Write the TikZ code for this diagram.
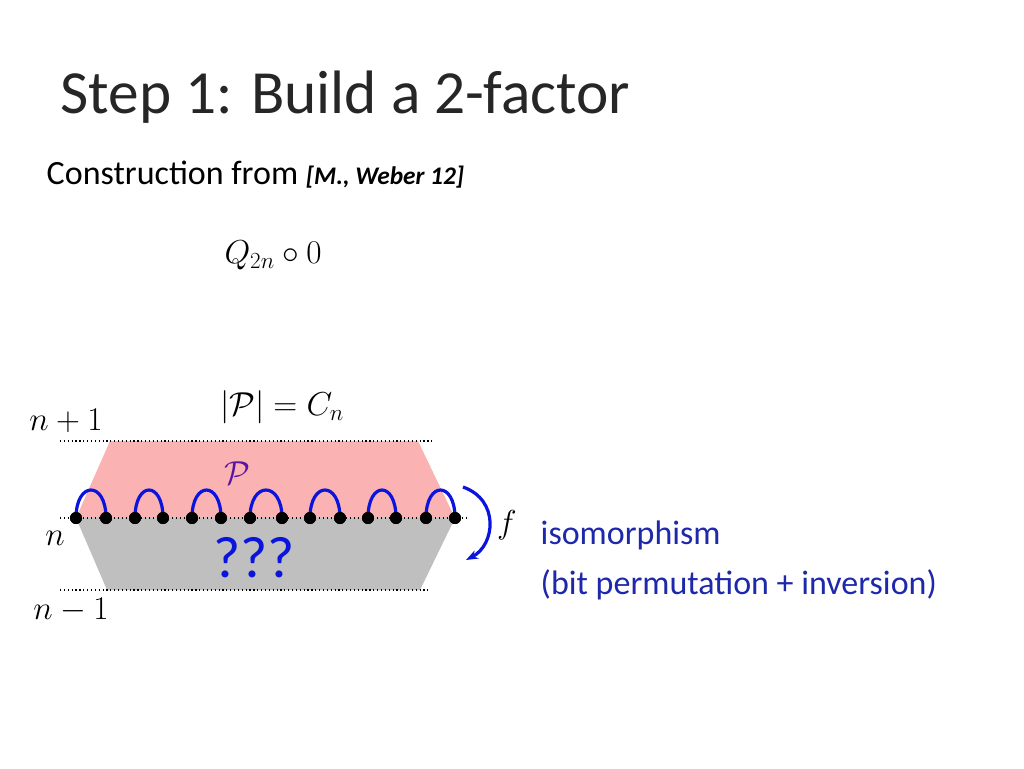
\documentclass[tikz,border=0pt]{standalone}
\usepackage{fontspec}
\setmainfont{Carlito}
\usetikzlibrary{arrows.meta}
\definecolor{pinkfill}{RGB}{251,178,178}
\definecolor{grayfill}{RGB}{191,191,191}
\definecolor{arcblue}{RGB}{10,20,220}
\definecolor{textblue}{RGB}{30,40,170}
\definecolor{purp}{RGB}{90,20,160}
\tikzset{
	level/.style = {dotted, line width=0.9pt},
	vtx/.style = {circle, fill=black, inner sep=0pt, minimum size=9pt},
	edge/.style = {arcblue, line width=2.4pt},
	mathlbl/.style = {font=\fontsize{26}{30}\selectfont},
}
\begin{document}
\begin{tikzpicture}[x=0.75pt, y=-0.75pt]
	\useasboundingbox (0,0) rectangle (1024,768);
	
	\node [anchor=west, font=\fontsize{46}{50}\selectfont, text=black!85] (title) at (56,97) {Step 1: Build a 2-factor};
	\node [anchor=west, font=\fontsize{25.5}{30}\selectfont] (sub) at (42,175) {Construction from \textit{\textbf{\fontsize{19}{22}\selectfont[M., Weber 12]}}};
	\node [mathlbl] (q) at (273,255) {$Q_{2n}\circ 0$};
	\node [mathlbl] (size) at (282,407) {$|\mathcal{P}|=C_n$};
	
	% levels
	\fill [pinkfill] (110,441) -- (418,441) -- (455,518) -- (76,518) -- cycle;
	\fill [grayfill] (76,518) -- (455,518) -- (420,590) -- (107,590) -- cycle;
	\draw [level] (60,441) -- (432,441);
	\draw [level] (60,518) -- (468,518);
	\draw [level] (60,590) -- (428,590);
	\node [mathlbl] (np) at (66,421) {$n+1$};
	\node [mathlbl] (nn) at (55,538) {$n$};
	\node [mathlbl] (nm) at (71,610) {$n-1$};
	\node [font=\fontsize{40}{44}\selectfont, text=purp] (P) at (237,473) {$\mathcal{P}$};
	\node [font=\fontsize{44}{48}\selectfont, text=arcblue] (unk) at (254,558) {???};
	
	% matching edges
	\foreach \i/\a/\b in {1/76/106, 2/135/163, 3/192/221, 4/250/282, 5/310/340, 6/368/396, 7/426/455} {
		\node [vtx] (u\i) at (\a,518) {};
		\node [vtx] (v\i) at (\b,518) {};
		\draw [edge] (u\i.center) .. controls ([yshift=28pt]u\i.center) and ([yshift=28pt]v\i.center) .. (v\i.center);
		\node [vtx] at (u\i) {};
		\node [vtx] at (v\i) {};
	}
	
	% isomorphism
	\coordinate (ftop) at (463,487);
	\coordinate (fbot) at (466,560);
	\draw [edge, -{Stealth[length=9pt]}] (ftop) .. controls (500,500) and (495,545) .. (fbot);
	\node [font=\fontsize{40}{44}\selectfont] (f) at (507,525) {$f$};
	\node [anchor=west, font=\fontsize{25.5}{30}\selectfont, text=textblue] (iso) at (536,535) {isomorphism};
	\node [anchor=west, font=\fontsize{25.5}{30}\selectfont, text=textblue] (bits) at (536,585) {(bit permutation + inversion)};
\end{tikzpicture}
\end{document}
